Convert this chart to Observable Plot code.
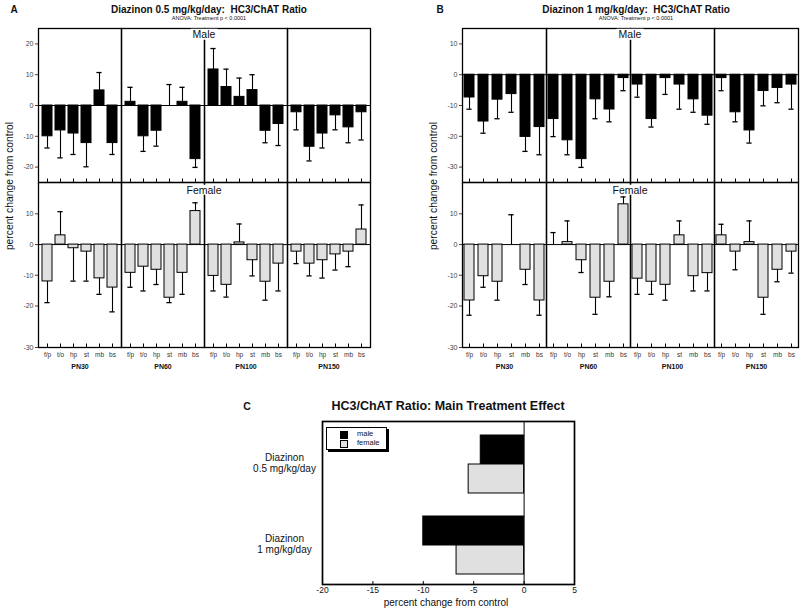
<!DOCTYPE html>
<html><head><meta charset="utf-8">
<script src="https://cdn.jsdelivr.net/npm/d3@7"></script>
<script src="https://cdn.jsdelivr.net/npm/@observablehq/plot@0.6"></script>
<style>
body{margin:0;background:#fff;font-family:"Liberation Sans",Arial,sans-serif;color:#111;}
#wrap{position:relative;width:800px;height:611px;overflow:hidden;background:#fff;}
.t{position:absolute;white-space:pre;line-height:1;transform:translate(-50%,-50%);}
</style></head><body><div id="wrap"></div>
<script>
// ---- data ----
const ages = ["PN30", "PN60", "PN100", "PN150"];
const regions = ["f/p", "t/o", "hp", "st", "mb", "bs"];
// Panel A: Diazinon 0.5 mg/kg/day (values in age-major, region-minor order)
const maleA = [-10, -8.1, -9.1, -12.2, 4.9, -12.2, 1.2, -10, -8.2, 0, 1.2, -17.4, 11.7, 6, 2.8, 5, -8.2, -6, -2.2, -13.4, -9.1, -3.2, -7.1, -2.2];
const maleAErr = [3.8, 8.9, 6.8, 7.7, 5.8, 3.7, 4.7, 4.9, 5, 6.8, 4.7, 2.7, 6.8, 5.8, 6.1, 5, 3.9, 7, 5.7, 4.6, 4.7, 4.7, 5, 9];
const femaleA = [-12, 3, -1.2, -2.3, -11, -14, -9.2, -7.2, -8.2, -17.3, -9.2, 10.9, -10.2, -13.1, 0.7, -5.1, -12.1, -6.2, -2.3, -6.2, -5.1, -3.2, -2.3, 4.9];
const femaleAErr = [6.9, 7.7, 10.7, 9.6, 5.2, 7.9, 4.7, 7.9, 4.8, 1.6, 7, 2.7, 4.9, 4, 6, 5.1, 6, 8.9, 3.9, 4, 5.8, 5.1, 4.9, 8];
// Panel B: Diazinon 1 mg/kg/day
const maleB = [-7.4, -15.2, -8.1, -6.3, -20.2, -17, -14.4, -21.3, -27.4, -8, -11.3, -1.1, -3.2, -14.4, -1.1, -3.2, -8, -13.3, -1.1, -12.2, -18.1, -5.3, -4.3, -3.2];
const maleBErr = [3.8, 3.8, 6.2, 5.9, 4.7, 9, 5.7, 4.7, 2.7, 6.3, 4, 4.1, 4.1, 2.6, 5.3, 8, 4.2, 2.8, 4.1, 3.1, 4.1, 4.8, 4.8, 8];
const femaleB = [-18.2, -10.3, -12.1, 0, -8.2, -18.2, 0, 0.8, -5.1, -17.3, -12.1, 13.1, -11.1, -12.1, -13.1, 3, -10.3, -9.3, 3, -2.3, 0.8, -17.3, -8.2, -2.3];
const femaleBErr = [4.8, 3.6, 6, 9.7, 4.8, 4.8, 3.9, 6.9, 4, 5.4, 4.9, 2.4, 5.1, 4.1, 5, 4.7, 4.8, 5.8, 3.6, 5.9, 6.9, 5.4, 3.9, 7];
const maleTicksA = [20, 10, 0, -10, -20];
const maleTicksB = [10, 0, -10, -20, -30];
// the female axis floor is labelled -30 in the original (axis end sits at about -33.5 on the linear scale)
const femaleTicks = [10, 0, -10, -20, -33.5];
const femaleTickLabels = ["10", "0", "-10", "-20", "-30"];
// Panel C: main treatment effect
const doses = ["0.5", "1"];
const doseLabels = ["Diazinon\n0.5 mg/kg/day", "Diazinon\n1 mg/kg/day"];
const maleC = [-4.3, -10];
const femaleC = [-5.5, -6.7];
const cTicks = [-20, -15, -10, -5, 0, 5];

// ---- helpers ----
const wrap = document.getElementById("wrap");
const FONT = "Liberation Sans, Arial, sans-serif";
function txt(s, cx, cy, css) {
  const d = document.createElement("div");
  d.className = "t"; d.textContent = s;
  d.style.cssText += css || "";
  d.style.left = cx + "px"; d.style.top = cy + "px";
  wrap.appendChild(d); return d;
}
function put(svg, left, top) {
  svg.style.position = "absolute"; svg.style.left = left + "px"; svg.style.top = top + "px";
  svg.style.background = "transparent"; svg.style.maxWidth = "none";
  wrap.appendChild(svg);
}
function makeRows(vals, errs) {
  return vals.map((v, i) => ({
    age: ages[Math.floor(i / regions.length)], region: regions[i % regions.length],
    v, e: errs[i], end: v >= 0 ? v + errs[i] : v - errs[i]
  }));
}
function barPanel({rows, sex, yDomain, yTicks, yLabels, width, marginLeft, marginRight}) {
  const male = sex === "male";
  const H = male ? 184 : 380, mt = male ? 28 : 182, mb = male ? 2 : 33;
  const top = mt, bottom = H - mb;
  const fill = male ? "#000" : "#e0e0e0";
  const fmt = yLabels ? (d => yLabels[yTicks.indexOf(d)]) : (d => String(d));
  const marks = [
    Plot.ruleY([0], {stroke: "#000", strokeWidth: 1}),
    Plot.barY(rows, {fx: "age", x: "region", y1: () => 0, y2: "v", fill, stroke: "#000", strokeWidth: 1}),
    Plot.ruleX(rows, {fx: "age", x: "region", y1: "v", y2: "end", stroke: "#000", strokeWidth: 1.1}),
    Plot.tickY(rows, {fx: "age", x: "region", y: "end", stroke: "#000", strokeWidth: 1.3, insetLeft: 2.4, insetRight: 2.4}),
    Plot.tickX(rows, {fx: "age", x: "region", stroke: "#000", strokeWidth: 1, insetTop: bottom - top - 3.5}),
    Plot.frame({stroke: "#000", strokeWidth: 1.3}),
    Plot.axisY({ticks: yTicks, tickSize: 3, tickPadding: 2, tickFormat: fmt, fontSize: 7, color: "#444", label: null})
  ];
  if (!male) {
    marks.push(
      Plot.axisX({tickSize: 0, tickPadding: 5, fontSize: 6.5, color: "#333", label: null}),
      Plot.axisFx({anchor: "bottom", tickSize: 0, tickPadding: 17, fontSize: 7, fontWeight: "bold", label: null})
    );
  }
  return Plot.plot({
    width, height: H, marginTop: mt, marginBottom: mb, marginLeft, marginRight,
    x: male ? {domain: regions, paddingInner: 0.26, paddingOuter: 0.13, axis: null}
            : {domain: regions, paddingInner: 0.26, paddingOuter: 0.13},
    fx: male ? {domain: ages, padding: 0, axis: null} : {domain: ages, padding: 0},
    y: {domain: yDomain},
    style: {background: "transparent", fontFamily: FONT, fontSize: "7px", overflow: "visible"},
    marks
  });
}

// ---- panel A ----
put(barPanel({rows: makeRows(femaleA, femaleAErr), sex: "female", yDomain: [-33.5, 20.2], yTicks: femaleTicks, yLabels: femaleTickLabels, width: 390, marginLeft: 37, marginRight: 19}), 0, 0);
put(barPanel({rows: makeRows(maleA, maleAErr), sex: "male", yDomain: [-25, 25], yTicks: maleTicksA, width: 390, marginLeft: 37, marginRight: 19}), 0, 0);
// ---- panel B ----
put(barPanel({rows: makeRows(femaleB, femaleBErr), sex: "female", yDomain: [-33.5, 20.2], yTicks: femaleTicks, yLabels: femaleTickLabels, width: 400, marginLeft: 62, marginRight: 2}), 400, 0);
put(barPanel({rows: makeRows(maleB, maleBErr), sex: "male", yDomain: [-35, 15], yTicks: maleTicksB, width: 400, marginLeft: 62, marginRight: 2}), 400, 0);

// ---- panel C ----
const rowsC = doses.map((d, i) => ({dose: d, male: maleC[i], female: femaleC[i]}));
put(Plot.plot({
  width: 340, height: 216, marginLeft: 82, marginRight: 6, marginTop: 26, marginBottom: 27,
  x: {domain: [-20, 5]},
  y: {domain: doses, padding: 0},
  style: {background: "transparent", fontFamily: FONT, fontSize: "10px", overflow: "visible"},
  marks: [
    Plot.barX(rowsC, {x1: () => 0, x2: "male", y: "dose", fill: "#000", stroke: "#000", insetTop: 13, insetBottom: 39}),
    Plot.barX(rowsC, {x1: () => 0, x2: "female", y: "dose", fill: "#e0e0e0", stroke: "#000", insetTop: 42, insetBottom: 10}),
    Plot.ruleX([0], {stroke: "#000", strokeWidth: 1}),
    Plot.tickX(cTicks, {x: d => d, stroke: "#000", insetTop: 160}),
    Plot.frame({stroke: "#000", strokeWidth: 1.7}),
    Plot.axisY({tickSize: 0, tickPadding: 38, textAnchor: "middle", lineHeight: 1.1,
      tickFormat: d => doseLabels[doses.indexOf(d)], fontSize: 10, color: "#111", label: null}),
    Plot.axisX({ticks: cTicks, tickSize: 0, tickPadding: 2, fontSize: 8.5, tickFormat: d => String(d), color: "#111", label: null})
  ]
}), 240, 395);

// ---- text ----
txt("A", 14, 10, "font-weight:bold;font-size:10px;");
txt("Diazinon 0.5 mg/kg/day:  HC3/ChAT Ratio", 209, 10, "font-weight:bold;font-size:10px;");
txt("ANOVA: Treatment p < 0.0001", 209, 19, "font-size:5.5px;");
txt("B", 440, 10, "font-weight:bold;font-size:10px;");
txt("Diazinon 1 mg/kg/day:  HC3/ChAT Ratio", 636, 10, "font-weight:bold;font-size:10px;");
txt("ANOVA: Treatment p < 0.0001", 636, 19, "font-size:5.5px;");
txt("percent change from control", 10, 186, "font-size:10.3px;transform:translate(-50%,-50%) rotate(-90deg);");
txt("percent change from control", 434, 186, "font-size:10.3px;transform:translate(-50%,-50%) rotate(-90deg);");
txt("Male", 204, 34, "font-size:10.5px;background:#fff;padding:0 2px;");
txt("Female", 204, 189.5, "font-size:10.5px;background:#fff;padding:0 2px;");
txt("Male", 630, 34, "font-size:10.5px;background:#fff;padding:0 2px;");
txt("Female", 630, 189.5, "font-size:10.5px;background:#fff;padding:0 2px;");
txt("C", 247, 406, "font-weight:bold;font-size:10.5px;");
txt("HC3/ChAT Ratio: Main Treatment Effect", 448, 406, "font-weight:bold;font-size:12.5px;");
txt("percent change from control", 446, 603, "font-size:10px;");

// legend (panel C)
const lg = document.createElement("div");
lg.style.cssText = "position:absolute;left:326px;top:427px;width:59px;height:21px;border:1px solid #000;box-shadow:2px 2px 0 #000;background:#fff;";
wrap.appendChild(lg);
const sw = (top, color) => {
  const s = document.createElement("div");
  s.style.cssText = `position:absolute;left:340px;top:${top}px;width:6px;height:6px;border:0.8px solid #000;background:${color};`;
  wrap.appendChild(s);
};
sw(430.5, "#000"); sw(439.5, "#e0e0e0");
const lt = (s, cy) => { txt(s, 357, cy, "font-size:7.5px;color:#111;transform:translate(0,-50%);"); };
lt("male", 433.8); lt("female", 442.6);
</script></body></html>
